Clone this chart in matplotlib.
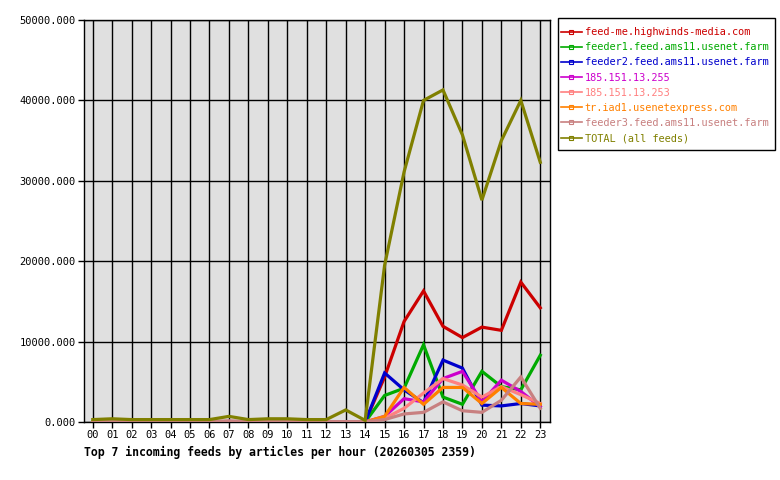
import matplotlib
matplotlib.use("Agg")
import matplotlib.pyplot as plt
from matplotlib.lines import Line2D
from matplotlib.patches import Rectangle
from matplotlib.ticker import FuncFormatter

hours = ["%02d" % h for h in range(24)]

feed_names = [
    "feed-me.highwinds-media.com",
    "feeder1.feed.ams11.usenet.farm",
    "feeder2.feed.ams11.usenet.farm",
    "185.151.13.255",
    "185.151.13.253",
    "tr.iad1.usenetexpress.com",
    "feeder3.feed.ams11.usenet.farm",
    "TOTAL (all feeds)",
]
feed_colors = ["#cc0000", "#00aa00", "#0000cc", "#cc00cc", "#ff8080",
               "#ff8000", "#c88080", "#808000"]

highwinds = [0, 0, 0, 0, 0, 0, 0, 0, 0, 0, 0, 0, 0, 0, 0,
             5600, 12500, 16300, 11900, 10500, 11800, 11400, 17400, 14200]
feeder1 = [0, 0, 0, 0, 0, 0, 0, 0, 0, 0, 0, 0, 0, 0, 0,
           3300, 4200, 9600, 3100, 2200, 6300, 4400, 4000, 8300]
feeder2 = [0, 0, 0, 0, 0, 0, 0, 0, 0, 0, 0, 0, 0, 0, 0,
           6100, 4000, 2400, 7700, 6700, 2100, 2000, 2300, 2000]
ip255 = [0, 0, 0, 0, 0, 0, 0, 0, 0, 0, 0, 0, 0, 0, 0,
         700, 2900, 2500, 5400, 6300, 2500, 5200, 3800, 1900]
ip253 = [0, 0, 0, 0, 0, 0, 0, 0, 0, 0, 0, 0, 0, 0, 0,
         450, 1700, 3600, 5400, 4600, 3100, 4400, 3400, 2300]
usenetexpress = [0, 0, 0, 0, 0, 0, 0, 0, 0, 0, 0, 0, 0, 0, 0,
                 700, 4300, 2200, 4300, 4300, 2300, 4300, 2300, 2200]
feeder3 = [50, 50, 50, 50, 50, 50, 50, 150, 50, 50, 50, 50, 50, 50, 50,
           300, 1000, 1200, 2500, 1400, 1200, 2700, 5600, 1700]
total = [300, 400, 300, 300, 300, 300, 300, 700, 300, 400, 400, 300, 300, 1500, 200,
         19500, 31100, 40000, 41300, 35700, 27600, 35000, 40000, 32300]

series = [highwinds, feeder1, feeder2, ip255, ip253, usenetexpress, feeder3, total]

mono = "DejaVu Sans Mono"

fig = plt.figure(figsize=(7.8, 4.8), dpi=100)
ax = fig.add_axes([84 / 780, 1 - 422 / 480, 466 / 780, 402 / 480])
ax.set_facecolor("#e0e0e0")

x = list(range(24))
for vals, col in zip(series, feed_colors):
    ax.plot(x, vals, color=col, lw=2.3, solid_joinstyle="miter", zorder=3)

ax.set_xlim(-0.45, 23.5)
ax.set_ylim(0, 50000)
ax.set_xticks(x)
ax.set_xticklabels(hours)
ax.set_yticks(range(0, 50001, 10000))
ax.yaxis.set_major_formatter(FuncFormatter(lambda v, p: "%.3f" % v))
ax.grid(True, color="black", lw=1)
ax.set_axisbelow(True)
ax.tick_params(direction="out", length=4, width=1, colors="black", labelsize=7.5, pad=2)
for lab in ax.get_xticklabels() + ax.get_yticklabels():
    lab.set_family(mono)
for s in ax.spines.values():
    s.set_color("black")
    s.set_linewidth(1)

fig.text(84 / 780, 1 - 452 / 480, "Top 7 incoming feeds by articles per hour (20260305 2359)",
         family=mono, fontweight="bold", fontsize=8.3, va="center", ha="left")

# legend box drawn separately so the padding can match
fig.patches.append(Rectangle((558 / 780, 1 - 150 / 480), 217 / 780, 132 / 480,
                             transform=fig.transFigure, facecolor="white",
                             edgecolor="black", lw=1, zorder=0))

handles = [Line2D([0], [0], color=c, lw=1.2, marker="s", markersize=3,
                  markerfacecolor="none", markeredgewidth=0.8) for c in feed_colors]
leg = fig.legend(handles, feed_names, loc="upper left",
                 bbox_to_anchor=(556 / 780, 1 - 22 / 480),
                 prop={"family": mono, "size": 7.4}, frameon=False,
                 handlelength=2.0, handletextpad=0.3, labelspacing=0.5,
                 borderpad=0.5, borderaxespad=0)
for t, c in zip(leg.get_texts(), feed_colors):
    t.set_color(c)

fig.savefig("out.png", dpi=100)
